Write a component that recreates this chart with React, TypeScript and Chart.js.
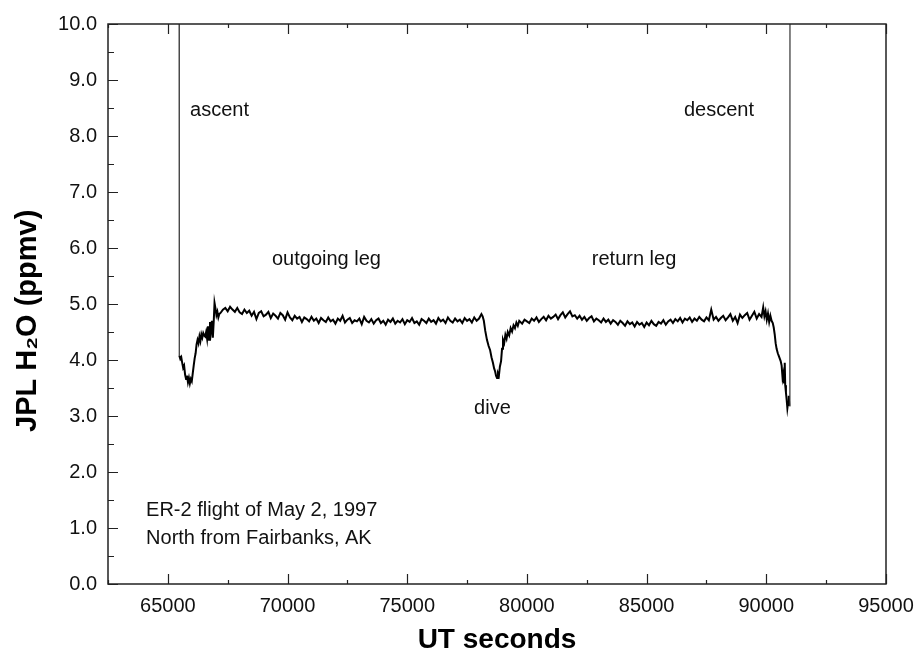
import { useEffect, useRef } from 'react';
import { Chart, registerables } from 'chart.js';

Chart.register(...registerables);

// ---- Data: [UT seconds, JPL H2O ppmv] ----
const ascentLeg: [number, number][] = [
  [65470, 12.0], [65478, 4.08], [65520, 4.02], [65560, 4.05], [65600, 3.95], [65640, 3.86],
  [65680, 3.9], [65720, 3.74], [65760, 3.66], [65800, 3.72], [65840, 3.6], [65880, 3.68],
  [65920, 3.58], [65960, 3.66], [66000, 3.62], [66040, 3.76], [66080, 3.9], [66120, 4.03],
  [66160, 4.12], [66200, 4.28], [66240, 4.36], [66280, 4.3], [66320, 4.42], [66360, 4.34],
  [66400, 4.46], [66440, 4.4], [66480, 4.48], [66520, 4.44], [66560, 4.42], [66600, 4.5],
  [66640, 4.38], [66680, 4.6], [66720, 4.36], [66760, 4.68], [66800, 4.52], [66840, 4.7],
  [66880, 4.4], [66920, 4.72], [66950, 5.02], [66990, 4.92], [67030, 4.8], [67070, 4.86],
  [67110, 4.76], [67150, 4.82],
];

const outgoingLeg: [number, number][] = [
  [67200, 4.84], [67300, 4.9], [67400, 4.93], [67500, 4.87], [67600, 4.95], [67700, 4.9],
  [67800, 4.86], [67900, 4.93], [68000, 4.85], [68100, 4.82], [68200, 4.9], [68300, 4.84],
  [68400, 4.88], [68500, 4.79], [68600, 4.86], [68700, 4.73], [68800, 4.84], [68900, 4.87],
  [69000, 4.78], [69100, 4.81], [69200, 4.86], [69300, 4.75], [69400, 4.83], [69500, 4.79],
  [69600, 4.74], [69700, 4.84], [69800, 4.8], [69900, 4.72], [70000, 4.85], [70100, 4.76],
  [70200, 4.71], [70300, 4.79], [70400, 4.74], [70500, 4.77], [70600, 4.68], [70700, 4.76],
  [70800, 4.73], [70900, 4.69], [71000, 4.77], [71100, 4.7], [71200, 4.74], [71300, 4.66],
  [71400, 4.75], [71500, 4.71], [71600, 4.68], [71700, 4.76], [71800, 4.69], [71900, 4.72],
  [72000, 4.65], [72100, 4.74], [72200, 4.7], [72300, 4.79], [72400, 4.67], [72500, 4.72],
  [72600, 4.75], [72700, 4.66], [72800, 4.71], [72900, 4.69], [73000, 4.74], [73100, 4.64],
  [73200, 4.77], [73300, 4.7], [73400, 4.67], [73500, 4.73], [73600, 4.65], [73700, 4.71],
  [73800, 4.74], [73900, 4.66], [74000, 4.7], [74100, 4.63], [74200, 4.72], [74300, 4.68],
  [74400, 4.74], [74500, 4.65], [74600, 4.7], [74700, 4.67], [74800, 4.73], [74900, 4.64],
  [75000, 4.71], [75100, 4.68], [75200, 4.75], [75300, 4.66], [75400, 4.69], [75500, 4.63],
  [75600, 4.73], [75700, 4.7], [75800, 4.66], [75900, 4.74], [76000, 4.68], [76100, 4.71],
  [76200, 4.65], [76300, 4.75], [76400, 4.69], [76500, 4.72], [76600, 4.66], [76700, 4.76],
  [76800, 4.7], [76900, 4.67], [77000, 4.74], [77100, 4.69], [77200, 4.72], [77300, 4.66],
  [77400, 4.75], [77500, 4.7], [77600, 4.73], [77700, 4.67], [77800, 4.76], [77900, 4.7],
  [78000, 4.74], [78100, 4.82],
];

const diveLeg: [number, number][] = [
  [78150, 4.78], [78200, 4.7], [78260, 4.52], [78330, 4.36], [78400, 4.25], [78460, 4.18],
  [78520, 4.05], [78580, 3.95], [78630, 3.85], [78670, 3.8], [78710, 3.72], [78750, 3.68],
  [78790, 3.76], [78830, 3.72], [78870, 3.88], [78920, 3.98], [78960, 4.2], [79000, 4.36],
  [79050, 4.3], [79100, 4.45], [79150, 4.38], [79200, 4.5], [79260, 4.44], [79320, 4.57],
  [79380, 4.51], [79440, 4.62], [79500, 4.57], [79560, 4.67], [79620, 4.61], [79680, 4.7],
];

const returnLeg: [number, number][] = [
  [79800, 4.65], [79900, 4.72], [80000, 4.69], [80100, 4.66], [80200, 4.74], [80300, 4.7],
  [80400, 4.76], [80500, 4.68], [80600, 4.73], [80700, 4.77], [80800, 4.71], [80900, 4.79],
  [81000, 4.74], [81100, 4.77], [81200, 4.81], [81300, 4.73], [81400, 4.8], [81500, 4.85],
  [81600, 4.76], [81700, 4.82], [81800, 4.87], [81900, 4.78], [82000, 4.8], [82100, 4.74],
  [82200, 4.79], [82300, 4.72], [82400, 4.77], [82500, 4.7], [82600, 4.75], [82700, 4.78],
  [82800, 4.69], [82900, 4.74], [83000, 4.71], [83100, 4.67], [83200, 4.74], [83300, 4.68],
  [83400, 4.72], [83500, 4.65], [83600, 4.71], [83700, 4.68], [83800, 4.63], [83900, 4.7],
  [84000, 4.66], [84100, 4.61], [84200, 4.69], [84300, 4.64], [84400, 4.67], [84500, 4.6],
  [84600, 4.68], [84700, 4.63], [84800, 4.66], [84900, 4.59], [85000, 4.67], [85100, 4.62],
  [85200, 4.7], [85300, 4.64], [85400, 4.61], [85500, 4.68], [85600, 4.65], [85700, 4.71],
  [85800, 4.63], [85900, 4.69], [86000, 4.72], [86100, 4.66], [86200, 4.73], [86300, 4.69],
  [86400, 4.75], [86500, 4.67], [86600, 4.74], [86700, 4.71], [86800, 4.76], [86900, 4.68],
  [87000, 4.74], [87100, 4.7], [87200, 4.77], [87300, 4.72], [87400, 4.69], [87500, 4.76],
  [87600, 4.71], [87700, 4.9], [87800, 4.72], [87900, 4.77], [88000, 4.7], [88100, 4.75],
  [88200, 4.79], [88300, 4.71], [88400, 4.76], [88500, 4.82], [88600, 4.7], [88700, 4.77],
  [88800, 4.66], [88900, 4.81], [89000, 4.75], [89100, 4.8], [89200, 4.84], [89300, 4.72],
  [89400, 4.79], [89500, 4.86], [89600, 4.74], [89700, 4.82], [89800, 4.77],
];

const descentLeg: [number, number][] = [
  [89870, 4.94], [89920, 4.78], [89970, 4.87], [90020, 4.72], [90070, 4.83], [90120, 4.68],
  [90170, 4.79], [90220, 4.7], [90270, 4.66], [90310, 4.58], [90350, 4.46], [90390, 4.3],
  [90430, 4.2], [90480, 4.12], [90540, 4.05], [90600, 3.98], [90640, 3.9], [90680, 3.68],
  [90710, 3.75], [90740, 3.6], [90770, 3.95], [90790, 3.55], [90820, 3.42], [90850, 3.29],
  [90880, 3.14], [90910, 3.24], [90940, 3.36], [90960, 3.18], [90985, 4.96], [90990, 12.0],
];

// ---- Axes ----
const xRange = [62500, 95000];
const xTickStep = 2500;
const xLabelEvery = 5000;
const yRange = [0, 10];
const yTickStep = 0.5;

const xTitle = 'UT seconds';
const yTitle = 'JPL H\u2082O (ppmv)';

// ---- Text notes, placed in data coordinates ----
const noteTexts = ['ascent', 'descent', 'outgoing leg', 'return leg', 'dive', 'ER-2 flight of May 2, 1997', 'North from Fairbanks, AK'];
const noteX = [65930, 86560, 69350, 82710, 78560, 64090, 64090];
const noteY = [8.46, 8.46, 5.79, 5.79, 3.14, 1.32, 0.82];
const noteAlign = ['left', 'left', 'left', 'left', 'center', 'left', 'left'];

const FONT = "'Liberation Sans', Arial, Helvetica, sans-serif";

const frameAndNotes = {
  id: 'frameAndNotes',
  afterDatasetsDraw(chart: any) {
    const { ctx, chartArea } = chart;
    const { left, right, top, bottom } = chartArea;
    const xs = chart.scales.x;
    const ys = chart.scales.y;
    ctx.save();
    ctx.strokeStyle = '#222';
    ctx.lineWidth = 1.5;
    ctx.strokeRect(left, top, right - left, bottom - top);
    ctx.lineWidth = 1.2;
    ctx.beginPath();
    xs.ticks.forEach((t: any) => {
      const px = Math.round(xs.getPixelForValue(t.value)) + 0.5;
      const major = t.value % xLabelEvery === 0;
      const len = major ? 10 : 4;
      ctx.moveTo(px, bottom);
      ctx.lineTo(px, bottom - len);
      ctx.moveTo(px, top);
      ctx.lineTo(px, top + len);
    });
    ys.ticks.forEach((t: any) => {
      const py = Math.round(ys.getPixelForValue(t.value)) + 0.5;
      const major = Math.abs(t.value - Math.round(t.value)) < 1e-6;
      const len = major ? 10 : 6;
      ctx.moveTo(left, py);
      ctx.lineTo(left + len, py);
    });
    ctx.stroke();

    ctx.fillStyle = '#111';
    ctx.font = `20px ${FONT}`;
    ctx.textBaseline = 'middle';
    noteTexts.forEach((txt, i) => {
      ctx.textAlign = noteAlign[i] as CanvasTextAlign;
      ctx.fillText(txt, xs.getPixelForValue(noteX[i]), ys.getPixelForValue(noteY[i]));
    });

    // y-axis title (placed slightly below the axis centre, as in the original)
    ctx.fillStyle = '#000';
    ctx.font = `bold 29px ${FONT}`;
    ctx.textAlign = 'center';
    ctx.translate(28, ys.getPixelForValue(4.7));
    ctx.rotate(-Math.PI / 2);
    ctx.fillText(yTitle, 0, 0);
    ctx.restore();
  },
};

export default function App() {
  const ref = useRef<HTMLCanvasElement | null>(null);
  useEffect(() => {
    if (!ref.current) return;
    const points = [...ascentLeg, ...outgoingLeg, ...diveLeg, ...returnLeg, ...descentLeg].map(([x, y]) => ({ x, y }));
    const thin = (c: any) =>
      c.p0.parsed.y > yRange[1] || c.p1.parsed.y > yRange[1] || Math.abs(c.p1.parsed.y - c.p0.parsed.y) > 1;
    const chart = new Chart(ref.current, {
      type: 'line',
      data: {
        datasets: [
          {
            data: points,
            borderColor: '#000',
            borderWidth: 2,
            pointRadius: 0,
            tension: 0,
            fill: false,
            segment: {
              borderWidth: (c: any) => (thin(c) ? 1.2 : 2),
              borderColor: (c: any) => (thin(c) ? '#333' : '#000'),
            },
          },
        ],
      },
      options: {
        animation: false,
        responsive: false,
        devicePixelRatio: 1,
        layout: { padding: { left: 0, right: 29, top: 24, bottom: 0 } },
        plugins: { legend: { display: false }, tooltip: { enabled: false } },
        scales: {
          x: {
            type: 'linear',
            min: xRange[0],
            max: xRange[1],
            grid: { display: false, drawTicks: false },
            border: { display: false },
            ticks: {
              stepSize: xTickStep,
              autoSkip: false,
              maxRotation: 0,
              padding: 10,
              color: '#111',
              font: { family: FONT, size: 20 },
              callback: (v: any) => (Number(v) % xLabelEvery === 0 ? String(v) : ''),
            },
            title: {
              display: true,
              text: xTitle,
              color: '#000',
              font: { family: FONT, size: 28, weight: 'bold' },
              padding: { top: 0, bottom: 2 },
            },
            afterFit: (s: any) => {
              s.height = 75;
              s.paddingLeft = 0;
              s.paddingRight = 0;
            },
          },
          y: {
            type: 'linear',
            min: yRange[0],
            max: yRange[1],
            grid: { display: false, drawTicks: false },
            border: { display: false },
            ticks: {
              stepSize: yTickStep,
              autoSkip: false,
              padding: 11,
              color: '#111',
              font: { family: FONT, size: 20 },
              callback: (v: any) => (Math.abs(Number(v) - Math.round(Number(v))) < 1e-6 ? Number(v).toFixed(1) : ''),
            },
            title: { display: false, text: yTitle },
            afterFit: (s: any) => {
              s.width = 108;
              s.paddingTop = 0;
              s.paddingBottom = 0;
            },
          },
        },
      },
      plugins: [frameAndNotes],
    });
    return () => chart.destroy();
  }, []);
  return (
    <div style={{ position: 'fixed', left: 0, top: 0, width: 915, height: 659, background: '#fff' }}>
      <canvas ref={ref} width={915} height={659} />
    </div>
  );
}
